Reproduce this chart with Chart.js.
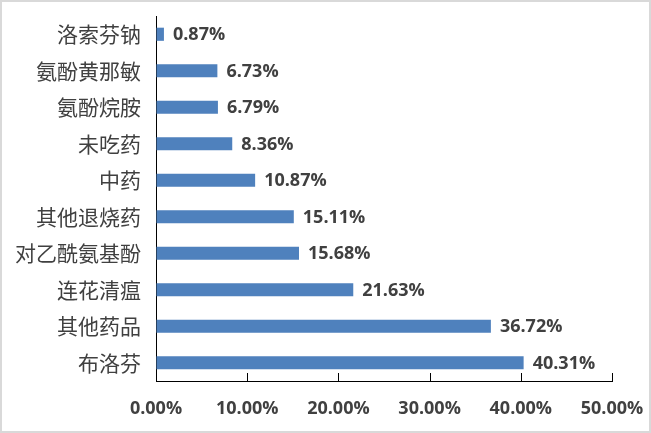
<!DOCTYPE html>
<html><head><meta charset="utf-8">
<script src="https://cdn.jsdelivr.net/npm/chart.js@4"></script>
<style>html,body{margin:0;padding:0;background:#fff}#wrap{width:651px;height:433px;position:relative}</style>
</head><body><div id="wrap"><canvas id="c" width="651" height="433"></canvas></div>
<script>
const categories = ['洛索芬钠','氨酚黄那敏','氨酚烷胺','未吃药','中药','其他退烧药','对乙酰氨基酚','连花清瘟','其他药品','布洛芬'];
const values = [0.87, 6.73, 6.79, 8.36, 10.87, 15.11, 15.68, 21.63, 36.72, 40.31];
const xTicks = [0, 10, 20, 30, 40, 50];

const TXT = '#404040';
const numFont = 'bold 18px "Open Sans", Lato, sans-serif';

const extras = {
  id: 'extras',
  afterDatasetsDraw(chart) {
    const ctx = chart.ctx;
    const meta = chart.getDatasetMeta(0);
    ctx.save();
    ctx.font = numFont;
    ctx.fillStyle = TXT;
    ctx.textAlign = 'left';
    ctx.textBaseline = 'middle';
    meta.data.forEach((bar, i) => {
      ctx.fillText(values[i].toFixed(2) + '%', bar.x + 9, bar.y + 1);
    });
    // inward ticks on x axis
    const xs = chart.scales.x;
    const bottom = chart.chartArea.bottom;
    ctx.strokeStyle = '#000';
    ctx.lineWidth = 1;
    xTicks.forEach(v => {
      if (v === 0) return;
      const px = Math.round(xs.getPixelForValue(v)) + 0.5;
      ctx.beginPath();
      ctx.moveTo(px, bottom - 8);
      ctx.lineTo(px, bottom);
      ctx.stroke();
    });
    // outer border
    ctx.strokeStyle = '#d9d9d9';
    ctx.lineWidth = 2;
    ctx.strokeRect(1, 1, 649, 431);
    ctx.restore();
  }
};

new Chart(document.getElementById('c'), {
  type: 'bar',
  data: {
    labels: categories,
    datasets: [{
      data: values,
      backgroundColor: '#4F81BD',
      borderWidth: 0,
      barPercentage: 0.36,
      categoryPercentage: 1
    }]
  },
  options: {
    indexAxis: 'y',
    responsive: false,
    animation: false,
    layout: { padding: { left: 0, right: 39, top: 16, bottom: 0 } },
    plugins: { legend: { display: false }, tooltip: { enabled: false } },
    scales: {
      x: {
        min: 0, max: 50,
        afterBuildTicks(s) { s.ticks = xTicks.map(v => ({ value: v })); },
        afterFit(s) { s.height = 52; s.paddingLeft = 0; s.paddingRight = 0; },
        grid: { display: true, drawOnChartArea: false, drawTicks: false },
        border: { display: true, color: '#000', width: 1 },
        ticks: {
          padding: 17,
          color: TXT,
          font: { family: '"Open Sans", Lato, sans-serif', size: 18, weight: 'bold' },
          callback: v => Number(v).toFixed(2) + '%',
          maxRotation: 0
        }
      },
      y: {
        afterFit(s) { s.width = 156; s.paddingTop = 0; s.paddingBottom = 0; },
        grid: { display: false, drawTicks: false },
        border: { display: true, color: '#000', width: 1 },
        ticks: {
          padding: 15,
          color: TXT,
          font: { family: '"Noto Sans CJK SC", sans-serif', size: 21 }
        }
      }
    }
  },
  plugins: [extras]
});
</script></body></html>
